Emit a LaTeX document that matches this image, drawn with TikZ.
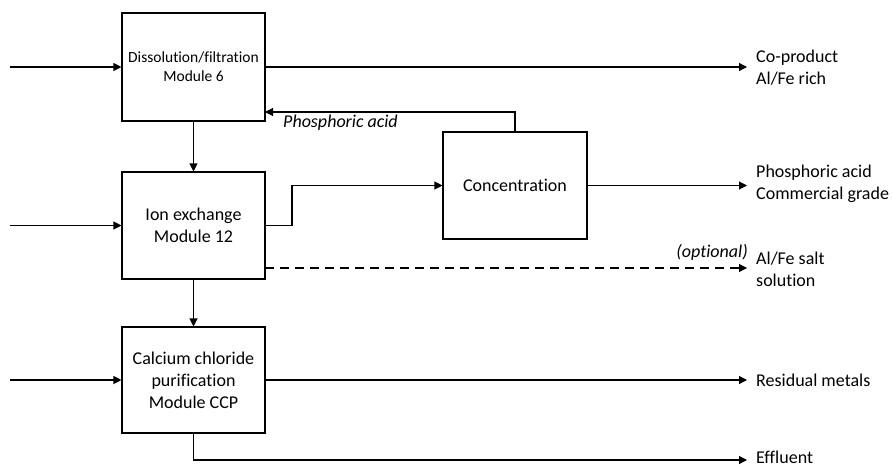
\documentclass[tikz,border=0pt]{standalone}
\usepackage{fontspec}
\setmainfont{Carlito}[Ligatures=NoCommon]
\usetikzlibrary{arrows.meta,calc}
\begin{document}
\begin{tikzpicture}[x=1pt,y=-1pt,
  every node/.style={font=\fontsize{18}{22}\selectfont},
  box/.style={draw, line width=1.1pt, inner sep=0pt, align=center, minimum width=143pt},
  flow/.style={line width=1.1pt, -{Triangle[length=8pt,width=8pt]}},
  lbl/.style={anchor=west, align=left, inner sep=0pt},
  note/.style={inner sep=0pt, font=\fontsize{18}{22}\selectfont\itshape}]
\useasboundingbox (0,0) rectangle (893,466);
% boxes
\node[box, minimum height=108pt, font=\fontsize{15.5}{19}\selectfont] (diss) at (193.5,67) {Dissolution/filtration\\Module 6};
\node[box, minimum height=107pt] (ion) at (193.5,225.5) {Ion exchange\\Module 12};
\node[box, minimum height=106pt] (ccp) at (193.5,380) {Calcium chloride\\purification\\Module CCP};
\node[box, minimum width=144pt, minimum height=107pt] (conc) at (515,185.5) {Concentration};
% inputs
\coordinate (in1) at (10,67);
\coordinate (in2) at (10,225.5);
\coordinate (in3) at (10,380);
\draw[flow] (in1) -- (diss.west);
\draw[flow] (in2) -- (ion.west);
\draw[flow] (in3) -- (ccp.west);
% vertical
\draw[flow] (diss.south) -- (ion.north);
\draw[flow] (ion.south) -- (ccp.north);
% outputs
\coordinate (o1) at (747,67);
\coordinate (o2) at (747,185.5);
\coordinate (o3) at (747,268);
\coordinate (o4) at (747,380);
\coordinate (o5) at (747,460);
\coordinate (ionout) at (265,268);
\coordinate (fb) at (265,112);
\coordinate (bend) at (292,225.5);
\draw[flow] (diss.east) -- (o1);
\draw[flow] (ion.east) -- (bend) |- (conc.west);
\draw[flow] (conc.north) |- (fb);
\draw[flow] (conc.east) -- (o2);
\draw[flow, dashed, dash pattern=on 9pt off 6pt] (ionout) -- (o3);
\draw[flow] (ccp.east) -- (o4);
\draw[flow] (ccp.south) |- (o5);
% labels
\node[lbl] (l1) at (756,68) {Co-product\\Al/Fe rich};
\node[lbl] (l2) at (756,184) {Phosphoric acid\\Commercial grade};
\node[lbl] (l3) at (756,269) {Al/Fe salt\\solution};
\node[lbl] (l4) at (756,380) {Residual metals};
\node[lbl, anchor=south west] (l5) at (756,464) {Effluent};
\node[note, anchor=east] (opt) at (748,252) {(optional)};
\node[note, anchor=west] (pa) at (283,123) {Phosphoric acid};
\end{tikzpicture}
\end{document}
